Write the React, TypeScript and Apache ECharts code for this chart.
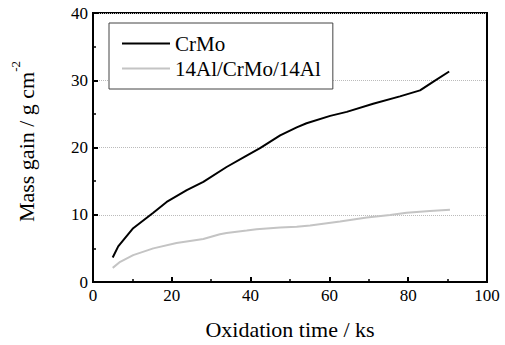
import React, { useEffect, useRef } from "react";
import * as echarts from "echarts";

const crmoX = [5.0, 6.4, 10.2, 15.3, 18.7, 23.8, 28.0, 33.9, 39.0, 42.4, 47.5, 51.7, 54.2, 60.2, 64.4, 71.1, 77.9, 83.0, 86.4, 90.4];
const crmoY = [3.65, 5.3, 8.0, 10.3, 11.9, 13.65, 14.9, 17.1, 18.8, 19.9, 21.8, 23.0, 23.6, 24.7, 25.3, 26.5, 27.6, 28.5, 29.8, 31.3];
const alX = [5.0, 6.9, 10.2, 15.3, 21.2, 28.0, 32.2, 33.9, 39.0, 41.5, 47.5, 51.7, 55.1, 62.7, 69.5, 75.4, 79.6, 85.5, 90.6];
const alY = [2.1, 3.0, 4.0, 5.0, 5.8, 6.4, 7.1, 7.3, 7.65, 7.85, 8.1, 8.2, 8.4, 9.0, 9.6, 9.95, 10.3, 10.55, 10.75];
const seriesNames = ["CrMo", "14Al/CrMo/14Al"];

const FONT = "Liberation Serif";

export default function App() {
  const ref = useRef<HTMLDivElement>(null);
  useEffect(() => {
    const chart = echarts.init(ref.current!, null, { renderer: "svg" });
    const axisCommon = {
      axisLine: { show: true, lineStyle: { color: "#000", width: 2 } },
      axisTick: { show: true, inside: true, length: 5, lineStyle: { color: "#000", width: 2 } },
      minorTick: { show: true, splitNumber: 2, length: 3, lineStyle: { color: "#000", width: 1.5 } },
      axisLabel: { color: "#000", fontFamily: FONT, fontSize: 17 },
      nameTextStyle: { color: "#000", fontFamily: FONT, fontSize: 22 },
    };
    chart.setOption({
      animation: false,
      backgroundColor: "#fff",
      textStyle: { fontFamily: FONT },
      grid: {
        left: 93, right: 18, top: 13, bottom: 61,
        show: true, borderColor: "#000", borderWidth: 2,
      },
      legend: {
        left: 109, top: 23, orient: "vertical",
        data: seriesNames,
        icon: "rect",
        itemWidth: 48, itemHeight: 2, itemGap: 4,
        borderColor: "#444", borderWidth: 1,
        padding: [10, 12, 10, 13],
        backgroundColor: "#fff",
        textStyle: { color: "#000", fontFamily: FONT, fontSize: 21 },
      },
      xAxis: {
        type: "value", min: 0, max: 100, interval: 20,
        name: "Oxidation time / ks", nameLocation: "middle", nameGap: 36,
        splitLine: { show: false },
        ...axisCommon,
        axisLabel: { ...axisCommon.axisLabel, margin: 5 },
      },
      yAxis: {
        type: "value", min: 0, max: 40, interval: 10,
        name: "{a|Mass gain / g cm}{s|-2}", nameLocation: "middle", nameGap: 56,
        splitLine: { show: true, lineStyle: { color: "#bbb", type: [1, 1], width: 1 } },
        ...axisCommon,
        axisLabel: { ...axisCommon.axisLabel, margin: 5 },
        nameTextStyle: {
          ...axisCommon.nameTextStyle,
          padding: [0, 0, 0, 12],
          rich: {
            a: { fontFamily: FONT, fontSize: 22, color: "#000", lineHeight: 28, verticalAlign: "bottom" },
            s: { fontFamily: FONT, fontSize: 13, color: "#000", lineHeight: 28, verticalAlign: "top" },
          },
        },
      },
      series: [
        {
          name: seriesNames[0], type: "line", symbol: "none",
          data: crmoX.map((x, i) => [x, crmoY[i]]),
          lineStyle: { color: "#000", width: 2 },
          itemStyle: { color: "#000" },
        },
        {
          name: seriesNames[1], type: "line", symbol: "none",
          data: alX.map((x, i) => [x, alY[i]]),
          lineStyle: { color: "#c4c4c4", width: 2 },
          itemStyle: { color: "#c4c4c4" },
        },
      ],
    });
    return () => chart.dispose();
  }, []);
  return <div ref={ref} style={{ width: 505, height: 345, position: "absolute", left: 0, top: 0 }} />;
}
